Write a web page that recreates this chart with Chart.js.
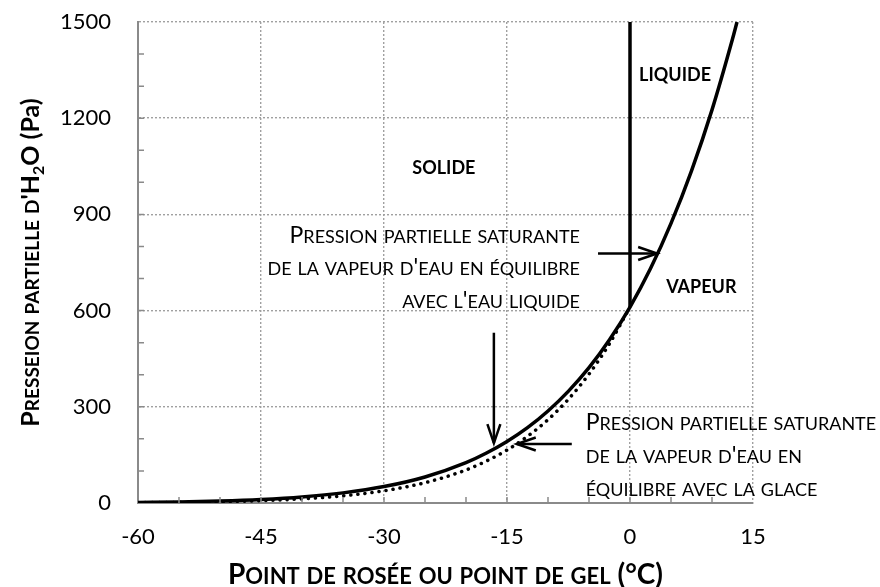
<!DOCTYPE html>
<html lang="fr">
<head>
<meta charset="utf-8">
<script src="https://cdn.jsdelivr.net/npm/chart.js@4/dist/chart.umd.min.js"></script>
<style>
  html, body { margin: 0; padding: 0; background: #fff; }
  #cadre { width: 880px; height: 587px; }
</style>
</head>
<body>
<div id="cadre"><canvas id="graphique"></canvas></div>
<script>
// Pression partielle saturante de H2O (Pa)
const temperaturesEau = [-60, -55, -50, -45, -40, -35, -30, -25, -20, -17.5, -15, -12.5, -10, -7.5, -5, -2.5, 0, 2.5, 5, 7.5, 10, 12.5, 13.05];
const pressionEau = [1.9, 3.5, 6.4, 11.2, 19.0, 31.6, 51.2, 81.1, 126, 156, 192, 235, 287, 349, 422, 509, 611, 731, 872, 1036, 1226, 1447, 1500];

const temperaturesGlace = [-60, -55, -50, -45, -40, -35, -30, -25, -20, -17.5, -15, -12.5, -10, -7.5, -5, -2.5, 0];
const pressionGlace = [1.1, 2.1, 3.9, 7.2, 12.9, 22.4, 38.0, 63.3, 103, 131, 165, 208, 260, 324, 402, 497, 611];

// frontière solide / liquide à 0 °C
const temperaturesFusion = [0, 0];
const pressionFusion = [611, 1500];

const ticksX = [-60, -45, -30, -15, 0, 15];
const ticksY = [0, 300, 600, 900, 1200, 1500];

const titreX = 'Point de rosée ou point de gel ';
const uniteX = '(°C)';
const titreY = "Presseion partielle d'H₂O ";
const uniteY = '(Pa)';
const zones = ['SOLIDE', 'LIQUIDE', 'VAPEUR'];
const texteEau = ['Pression partielle saturante', "de la vapeur d'eau en équilibre", "avec l'eau liquide"];
const texteGlace = ['Pression partielle saturante', "de la vapeur d'eau en", 'équilibre avec la glace'];

const POLICE = 'Lato, "Open Sans", sans-serif';

function points(xs, ys) {
    return xs.map((x, i) => ({ x: x, y: ys[i] }));
}

// découpe : majuscules pleine taille, minuscules en petites capitales, indice
function segmenter(texte) {
    const morceaux = [];
    for (const c of texte) {
        let type = 'plein', car = c;
        if (c === '₂') { type = 'indice'; car = '2'; }
        else if (c !== c.toUpperCase()) { type = 'petit'; car = c.toUpperCase(); }
        const dernier = morceaux[morceaux.length - 1];
        if (dernier && dernier.type === type) dernier.txt += car;
        else morceaux.push({ type: type, txt: car });
    }
    return morceaux;
}

function petitesCapitales(ctx, texte, suffixe, x, y, taille, gras, align) {
    const poids = gras ? 'bold ' : '';
    const polices = {
        plein: poids + taille + 'px ' + POLICE,
        petit: poids + Math.round(taille * 0.77) + 'px ' + POLICE,
        indice: poids + Math.round(taille * 0.64) + 'px ' + POLICE
    };
    const morceaux = segmenter(texte);
    if (suffixe) morceaux.push({ type: 'plein', txt: suffixe });
    let largeur = 0;
    morceaux.forEach(m => { ctx.font = polices[m.type]; m.w = ctx.measureText(m.txt).width; largeur += m.w; });
    let cx = align === 'right' ? x - largeur : (align === 'center' ? x - largeur / 2 : x);
    const base = y + taille * 0.36;
    ctx.textAlign = 'left';
    ctx.textBaseline = 'alphabetic';
    morceaux.forEach(m => {
        ctx.font = polices[m.type];
        ctx.fillText(m.txt, cx, m.type === 'indice' ? base + taille * 0.2 : base);
        cx += m.w;
    });
}

function fleche(ctx, x1, y1, x2, y2) {
    const a = Math.atan2(y2 - y1, x2 - x1);
    const L = 20, ouv = 0.33;
    ctx.beginPath();
    ctx.moveTo(x1, y1);
    ctx.lineTo(x2, y2);
    ctx.stroke();
    ctx.beginPath();
    ctx.moveTo(x2 - L * Math.cos(a - ouv), y2 - L * Math.sin(a - ouv));
    ctx.lineTo(x2, y2);
    ctx.lineTo(x2 - L * Math.cos(a + ouv), y2 - L * Math.sin(a + ouv));
    ctx.stroke();
}

const pluginFigure = {
    id: 'figure',
    afterDraw(chart) {
        const ctx = chart.ctx;
        const sx = chart.scales.x, sy = chart.scales.y;
        const area = chart.chartArea;
        const X = v => sx.getPixelForValue(v);
        const Y = v => sy.getPixelForValue(v);
        ctx.save();

        // petites graduations intérieures
        ctx.strokeStyle = '#8a8a8a';
        ctx.lineWidth = 1.5;
        ctx.beginPath();
        for (let t = sx.min + 5; t < sx.max; t += 5) {
            ctx.moveTo(X(t), area.bottom);
            ctx.lineTo(X(t), area.bottom - 6);
        }
        for (let p = sy.min + 100; p < sy.max; p += 100) {
            ctx.moveTo(area.left, Y(p));
            ctx.lineTo(area.left + 6, Y(p));
        }
        ctx.stroke();

        ctx.fillStyle = '#000';
        // titres des axes
        petitesCapitales(ctx, titreX, uniteX, (area.left + area.right) / 2, 574, 28, true, 'center');
        ctx.save();
        ctx.translate(30, (area.top + area.bottom) / 2);
        ctx.rotate(-Math.PI / 2);
        petitesCapitales(ctx, titreY, uniteY, 0, 0, 25, true, 'center');
        ctx.restore();

        // zones
        ctx.font = 'bold 18px ' + POLICE;
        ctx.textAlign = 'center';
        ctx.textBaseline = 'middle';
        ctx.fillText(zones[0], X(-22.7), Y(1044));
        ctx.fillText(zones[1], X(5.5), Y(1334));
        ctx.fillText(zones[2], X(8.7), Y(672));

        // textes des courbes
        texteEau.forEach((l, i) => petitesCapitales(ctx, l, '', X(-6.1), Y(837) + i * 32.5, 23, false, 'right'));
        texteGlace.forEach((l, i) => petitesCapitales(ctx, l, '', X(-5.4), Y(253) + i * 33, 23, false, 'left'));

        // flèches
        ctx.strokeStyle = '#000';
        ctx.lineWidth = 2.5;
        ctx.lineCap = 'butt';
        fleche(ctx, X(-3.9), Y(778), X(3.3), Y(778));
        fleche(ctx, X(-16.6), Y(531), X(-16.6), Y(187));
        fleche(ctx, X(-7.1), Y(184), X(-13.8), Y(184));
        ctx.restore();
    }
};

function creerGraphique() {
    const ctx = document.getElementById('graphique').getContext('2d');
    new Chart(ctx, {
        type: 'line',
        data: {
            datasets: [
                {
                    label: 'Eau liquide',
                    data: points(temperaturesEau, pressionEau),
                    borderColor: '#000',
                    borderWidth: 3.5,
                    pointRadius: 0,
                    cubicInterpolationMode: 'monotone'
                },
                {
                    label: 'Glace',
                    data: points(temperaturesGlace, pressionGlace),
                    borderColor: '#000',
                    borderWidth: 3.5,
                    borderDash: [0.1, 7],
                    borderCapStyle: 'round',
                    pointRadius: 0,
                    cubicInterpolationMode: 'monotone'
                },
                {
                    label: 'Fusion',
                    data: points(temperaturesFusion, pressionFusion),
                    borderColor: '#000',
                    borderWidth: 3.5,
                    pointRadius: 0
                }
            ]
        },
        options: {
            responsive: true,
            maintainAspectRatio: false,
            animation: false,
            layout: { padding: { left: 0, right: 127, top: 22, bottom: 0 } },
            plugins: { legend: { display: false }, tooltip: { enabled: false } },
            scales: {
                x: {
                    type: 'linear',
                    min: ticksX[0],
                    max: ticksX[ticksX.length - 1],
                    afterBuildTicks: s => { s.ticks = ticksX.map(v => ({ value: v })); },
                    afterFit: s => { s.height = 84; s.paddingLeft = 0; s.paddingRight = 0; },
                    ticks: { font: { family: POLICE, size: 22 }, color: '#000', padding: 21, callback: v => String(v) },
                    grid: { color: '#a0a0a0', lineWidth: 1.4, drawTicks: false },
                    border: { color: '#8a8a8a', width: 2, dash: [2, 2] }
                },
                y: {
                    type: 'linear',
                    min: ticksY[0],
                    max: ticksY[ticksY.length - 1],
                    afterBuildTicks: s => { s.ticks = ticksY.map(v => ({ value: v })); },
                    afterFit: s => { s.width = 138; s.paddingTop = 0; s.paddingBottom = 0; },
                    ticks: { font: { family: POLICE, size: 22 }, color: '#000', padding: 27, callback: v => String(v) },
                    grid: { color: '#a0a0a0', lineWidth: 1.4, drawTicks: false },
                    border: { color: '#8a8a8a', width: 2, dash: [2, 2] }
                }
            }
        },
        plugins: [pluginFigure]
    });
}

window.addEventListener('DOMContentLoaded', creerGraphique);
</script>
</body>
</html>
